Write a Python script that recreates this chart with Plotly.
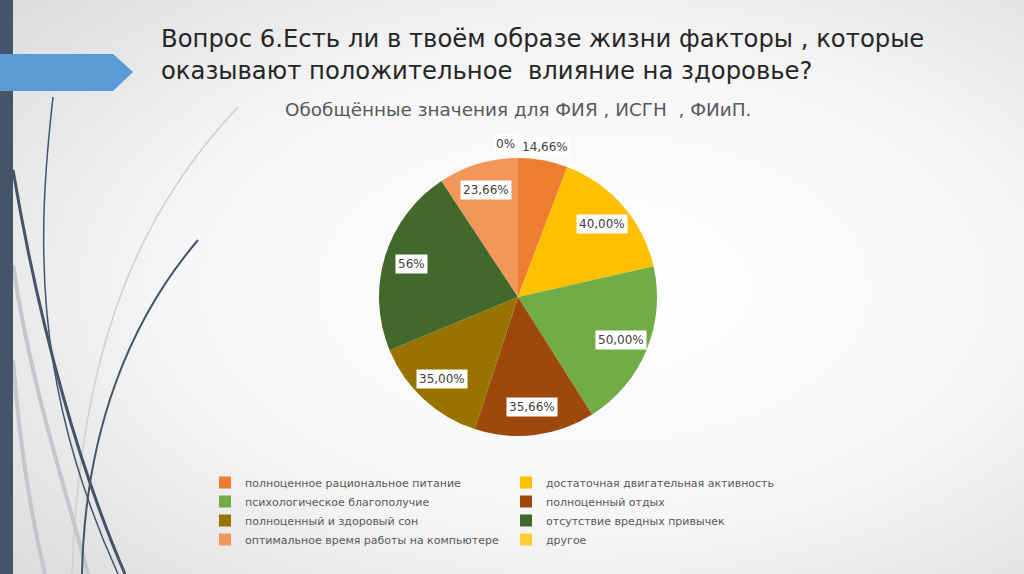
import math
import base64
import plotly.graph_objects as go

# ---------------- data ----------------
categories = [
    "полноценное рациональное питание",
    "достаточная двигательная активность",
    "психологическое благополучие",
    "полноценный отдых",
    "полноценный и здоровый сон",
    "отсутствие вредных привычек",
    "оптимальное время работы на компьютере",
    "другое",
]
values = [14.66, 40.00, 50.00, 35.66, 35.00, 56.00, 23.66, 0.0]
value_labels = ["14,66%", "40,00%", "50,00%", "35,66%", "35,00%", "56%", "23,66%", "0%"]
colors = ["#ED7D31", "#FFC000", "#70AD47", "#9E480E", "#997300", "#43682B", "#F1975A", "#FFCD33"]

title_text = "Вопрос 6.Есть ли в твоём образе жизни факторы , которые<br>оказывают положительное  влияние на здоровье?"
subtitle_text = "Обобщённые значения для ФИЯ , ИСГН  , ФИиП."

# ---------------- geometry ----------------
W, H = 1024, 574
ML, MR = 200, 124
PW = W - ML - MR
CX, CY, R = 518, 297, 139  # pie centre and radius in px


def px2x(px):
    return (px - ML) / PW


def py2y(py):
    return 1 - py / H


FONT = "DejaVu Sans"

# ---------------- background (slide decoration) ----------------
svg = f"""<svg xmlns='http://www.w3.org/2000/svg' width='{W}' height='{H}' viewBox='0 0 {W} {H}'>
<defs><radialGradient id='g' cx='0.58' cy='0.5' r='0.75'>
<stop offset='0' stop-color='#ffffff'/><stop offset='0.55' stop-color='#f6f6f6'/><stop offset='1' stop-color='#dcdcdc'/></radialGradient></defs>
<rect width='{W}' height='{H}' fill='url(#g)'/>
<path d='M238,107 C150,200 80,330 72,574' stroke='#d0d0d0' stroke-width='1.5' fill='none'/>
<path d='M13,265 C30,380 60,470 88,574' stroke='#c3c6cb' stroke-width='4' fill='none'/>
<path d='M13,360 C20,450 32,520 45,574' stroke='#c3c6cb' stroke-width='4' fill='none'/>
<path d='M53,97 C38,230 30,380 118,574' stroke='#44546A' stroke-width='1.5' fill='none'/>
<path d='M13,170 C40,330 80,470 125,574' stroke='#44546A' stroke-width='3' fill='none'/>
<path d='M198,240 C130,320 85,430 82,574' stroke='#44546A' stroke-width='2' fill='none'/>
<rect x='0' y='0' width='13' height='{H}' fill='#44546A'/>
<path d='M0,54 L113,54 L133,72 L113,91 L0,91 Z' fill='#5B9BD5'/>
<rect x='0' y='0' width='13' height='54' fill='#44546A'/>
<rect x='0' y='91' width='13' height='{H-91}' fill='#44546A'/>
</svg>"""
bg_src = "data:image/svg+xml;base64," + base64.b64encode(svg.encode("utf-8")).decode("ascii")

fig = go.Figure()
fig.add_trace(go.Pie(
    labels=categories,
    values=values,
    sort=False,
    direction="clockwise",
    rotation=0,
    marker=dict(colors=colors, line=dict(width=0)),
    textinfo="none",
    hoverinfo="label+value",
    domain=dict(x=[px2x(CX - R), px2x(CX + R)], y=[py2y(CY + R), py2y(CY - R)]),
    showlegend=True,
))

# data labels computed from the slice angles
annotations = []
total = sum(values)
cum = 0.0
for v, lab in zip(values, value_labels):
    mid = (cum + v / 2) / total * 2 * math.pi
    cum += v
    share = v / total
    rf = 1.1 if share < 0.07 else 0.8
    lx = CX + rf * R * math.sin(mid)
    ly = CY - rf * R * math.cos(mid)
    anchor = "right" if v == 0 else "center"
    annotations.append(dict(
        x=px2x(lx), y=py2y(ly), xref="paper", yref="paper",
        text=lab, showarrow=False, xanchor=anchor, yanchor="middle",
        bgcolor="white", borderpad=2,
        font=dict(family=FONT, size=12, color="#404040"),
    ))

annotations.append(dict(
    x=px2x(159), y=py2y(22), xref="paper", yref="paper",
    text=title_text, showarrow=False, xanchor="left", yanchor="top", align="left",
    font=dict(family=FONT, size=24.3, color="#262626"),
))
annotations.append(dict(
    x=px2x(518), y=py2y(110), xref="paper", yref="paper",
    text=subtitle_text, showarrow=False, xanchor="center", yanchor="middle",
    font=dict(family=FONT, size=18.4, color="#595959"),
))

fig.update_layout(
    width=W, height=H,
    margin=dict(l=ML, r=MR, t=0, b=0, pad=0),
    paper_bgcolor="#f2f2f2",
    plot_bgcolor="rgba(0,0,0,0)",
    images=[dict(source=bg_src, xref="paper", yref="paper",
                 x=px2x(0), y=1, sizex=W / PW, sizey=1,
                 xanchor="left", yanchor="top", sizing="stretch", layer="below")],
    annotations=annotations,
    legend=dict(
        orientation="h", x=px2x(205), y=py2y(468), xanchor="left", yanchor="top",
        entrywidth=256, bgcolor="rgba(0,0,0,0)", itemwidth=30,
        font=dict(family=FONT, size=11, color="#595959"),
        itemclick=False,
    ),
)

fig.write_html("out.html", post_script="document.body.style.margin='0';",
               config={"displayModeBar": False})
